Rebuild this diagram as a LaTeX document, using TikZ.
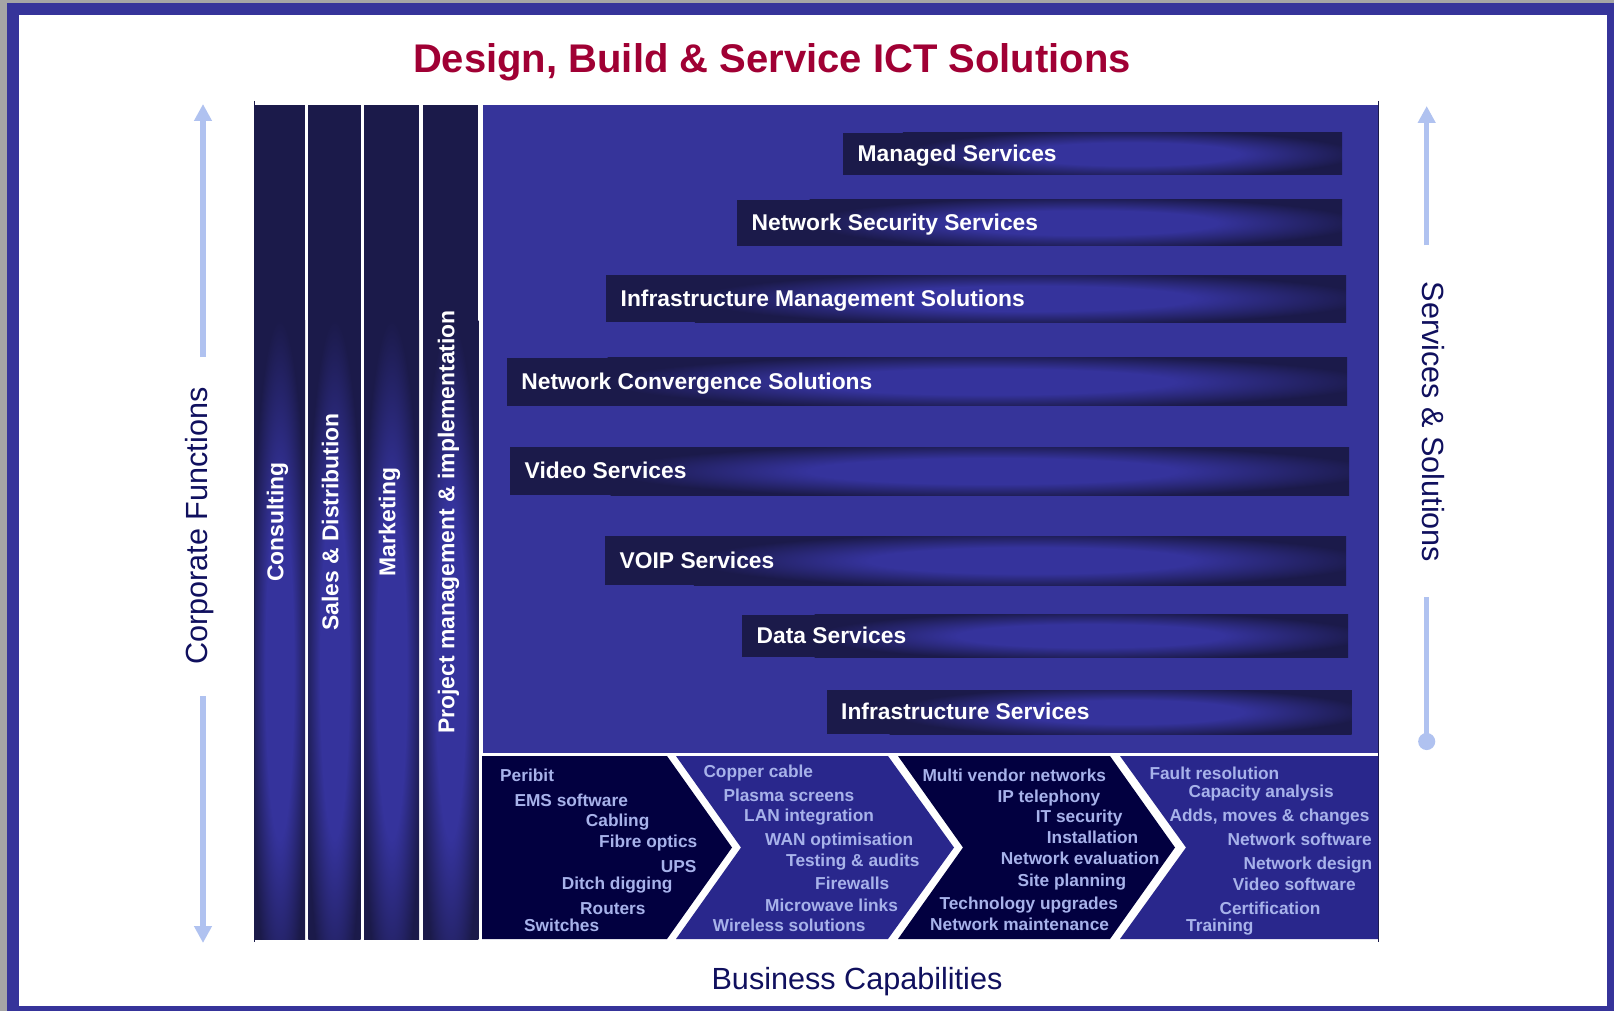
\documentclass[tikz,border=0pt]{standalone}
\usepackage{fontspec}
\setmainfont{Liberation Sans}
\usetikzlibrary{arrows.meta}
\definecolor{outergray}{HTML}{A5A5A5}
\definecolor{frame}{HTML}{36349A}
\definecolor{bardark}{HTML}{1B1A4A}
\definecolor{barlight}{HTML}{35339C}
\definecolor{chevdark}{HTML}{020040}
\definecolor{chevmid}{HTML}{29278C}
\definecolor{captxt}{HTML}{A7B2EA}
\definecolor{arrowblue}{HTML}{B0C2F0}
\definecolor{navytxt}{HTML}{10105E}
\definecolor{titlered}{HTML}{A00034}
\pgfdeclareradialshading{glow}{\pgfpoint{0bp}{0bp}}{color(0bp)=(barlight); color(12bp)=(barlight); color(25bp)=(bardark); color(50bp)=(bardark)}

\begin{document}
\begin{tikzpicture}[x=1pt,y=-1pt,
  svctext/.style={text=white,font=\fontsize{22.8}{25}\selectfont\bfseries,inner sep=0pt,anchor=base west},
  coltext/.style={text=white,font=\fontsize{22.9}{25}\selectfont\bfseries,rotate=90,inner sep=0pt,text height=16pt,text depth=4.5pt},
  captext/.style={text=captxt,font=\fontsize{17.3}{19}\selectfont\bfseries,inner sep=0pt,anchor=base west},
  sidetext/.style={text=navytxt,font=\fontsize{30.6}{34}\selectfont,inner sep=0pt},
  sidearrow/.style={draw=arrowblue,line width=5.5pt}]
\useasboundingbox (0,0) rectangle (1614,1011);
\fill[outergray] (0,0) rectangle (1614,1011);
\fill[frame] (7,3) rectangle (1614,1011);
\fill[white] (19,15) rectangle (1607,1006);

\node[font=\fontsize{40}{44}\selectfont\bfseries,text=titlered] (title) at (772,62) {Design, Build \& Service ICT Solutions};

\foreach \xa/\xb/\name/\txt in {254/305/cons/Consulting, 308.3/360.7/sales/Sales \& Distribution, 364/419/mkt/Marketing, 423/478.3/pmi/Project management \& implementation}{
  \fill[bardark] (\xa,105) rectangle (\xb,939);
  \begin{scope}
    \clip (\xa,105) rectangle (\xb,939);
    \shade[shading=glow] (\xa-4,320) rectangle (\xb+4,1020);
  \end{scope}
  \node[coltext] (\name) at ({(\xa+\xb)/2-2},522) {\txt};
}
\draw[bardark,line width=1pt] (254,101) -- (254,942);
\draw[bardark,line width=1pt] (1378,101) -- (1378,942);

\fill[frame] (483,105) rectangle (1378,753);
\foreach \xa/\ya/\xb/\yb/\name/\txt in {843/133/1342/175/ms/Managed Services, 737/200/1342/245.5/nss/Network Security Services, 606/275/1346/322/ims/Infrastructure Management Solutions, 506.7/357.7/1347/405.7/ncs/Network Convergence Solutions, 510/447/1349/495/vid/Video Services, 605/536/1346/585/voip/VOIP Services, 742/614.5/1348/657/data/Data Services, 826.5/690/1351.5/734/infra/Infrastructure Services}{
  \fill[bardark] (\xa,\ya) rectangle (\xb,\yb);
  \begin{scope}
    \clip (\xa,\ya) rectangle (\xb,\yb);
    \shade[shading=glow] ({\xa+0.12*(\xb-\xa)},\ya-3) rectangle ({\xb+0.03*(\xb-\xa)},\yb+3);
  \end{scope}
  \node[svctext] (\name) at (\xa+14.5,{(\ya+\yb)/2+7.5}) {\txt};
}

\fill[chevdark] (482,756) -- (667,756) -- (732,847.5) -- (667,939) -- (482,939) -- cycle;
\fill[chevmid] (676,756) -- (888,756) -- (954,847.5) -- (888,939) -- (676,939) -- (741,847.5) -- cycle;
\fill[chevdark] (898,756) -- (1110,756) -- (1175,847.5) -- (1110,939) -- (898,939) -- (963,847.5) -- cycle;
\fill[chevmid] (1120,756) -- (1378,756) -- (1378,939) -- (1120,939) -- (1186,847.5) -- cycle;

\foreach \x/\y/\t [count=\n] in {500/775/Peribit, 514.3/800/EMS software, 585.7/820/Cabling, 599/841.7/Fibre optics, 660.7/866.7/UPS, 561.7/883.3/Ditch digging, 580/908.3/Routers, 524/925.7/Switches}
  \node[captext] (supply\n) at (\x,\y+6) {\t};
\foreach \x/\y/\t [count=\n] in {703.3/771.7/Copper cable, 723.3/795/Plasma screens, 744/815.7/LAN integration, 765/839/WAN optimisation, 786/860/Testing \& audits, 815/883.3/Firewalls, 765/905/Microwave links, 712.7/925.7/Wireless solutions}
  \node[captext] (build\n) at (\x,\y+6) {\t};
\foreach \x/\y/\t [count=\n] in {922.3/775/Multi vendor networks, 997.3/796.7/IP telephony, 1035.7/816.7/IT security, 1046.7/837.7/Installation, 1000.7/858.3/Network evaluation, 1017.3/880/Site planning, 939.3/903.3/Technology upgrades, 930/924.3/Network maintenance}
  \node[captext] (design\n) at (\x,\y+6) {\t};
\foreach \x/\y/\t [count=\n] in {1149.3/773.3/Fault resolution, 1188.3/791.7/Capacity analysis, 1169.3/815.7/{Adds, moves \& changes}, 1227.3/839/Network software, 1243.3/863.3/Network design, 1232.7/884/Video software, 1219.3/908.3/Certification, 1186/925.7/Training}
  \node[captext] (service\n) at (\x,\y+6) {\t};

\node[sidetext,rotate=90] (corp) at (200,526) {Corporate Functions};
\coordinate (corpA) at (203,357);
\coordinate (corptop) at (203,104);
\coordinate (corpB) at (203,696);
\coordinate (corpbot) at (203,943);
\draw[sidearrow,-{Triangle[width=17pt,length=17pt]}] (corpA) -- (corptop);
\draw[sidearrow,-{Triangle[width=17pt,length=17pt]}] (corpB) -- (corpbot);

\node[sidetext,rotate=-90] (servsol) at (1433.5,422) {Services \& Solutions};
\coordinate (ssA) at (1426.7,245);
\coordinate (sstop) at (1426.7,106);
\coordinate (ssB) at (1426.7,597);
\coordinate (ssend) at (1426.7,750);
\draw[sidearrow,-{Triangle[width=17pt,length=17pt]}] (ssA) -- (sstop);
\draw[sidearrow,-{Circle[length=17pt]}] (ssB) -- (ssend);

\node[sidetext] (buscap) at (857,982) {Business Capabilities};
\end{tikzpicture}
\end{document}
